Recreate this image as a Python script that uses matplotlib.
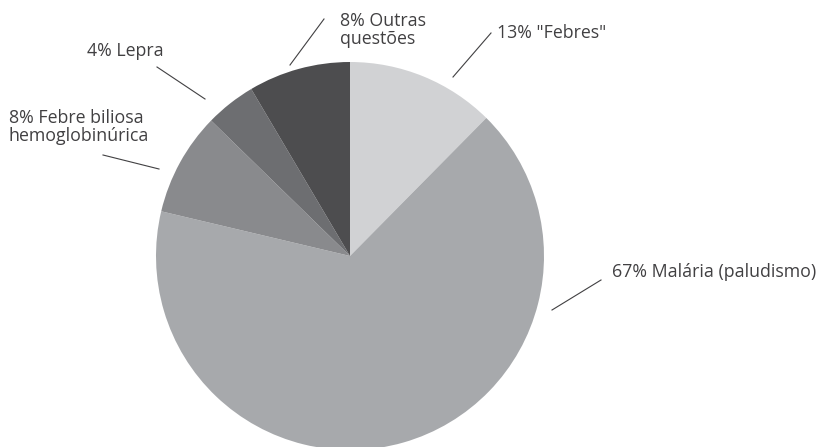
import matplotlib
matplotlib.use("Agg")
import matplotlib.pyplot as plt

labels = ['13% "Febres"', '67% Malária (paludismo)', '8% Febre biliosa\nhemoglobinúrica', '4% Lepra', '8% Outras\nquestões']
values = [12.4, 66.3, 8.6, 4.2, 8.5]
colors = ['#d1d2d4', '#a7a9ac', '#898a8d', '#6d6e71', '#4d4d4f']

W, H = 834, 447
fig = plt.figure(figsize=(W / 100, H / 100), dpi=100)
ax = fig.add_axes([0, 0, 1, 1])

cx, cy, r = 350, H - 256, 194
ax.pie(values, colors=colors, startangle=90, counterclock=False,
       center=(cx, cy), radius=r, wedgeprops=dict(linewidth=0))
ax.set_xlim(0, W)
ax.set_ylim(0, H)
ax.set_aspect('equal')
ax.axis('off')

# label layout: (text x, text y (image px), line start, line end) in image px
layout = [
    (497, 33, (453, 77), (491, 33)),
    (612, 272, (552, 310), (601, 280)),
    (9, 127, (159, 169), (103, 155)),
    (87, 51, (205, 99), (157, 67)),
    (340, 30, (290, 65), (324, 19)),
]
fp = dict(family=['Open Sans', 'DejaVu Sans'], fontsize=12.8, color='#414042')
for lab, (tx, ty, p0, p1) in zip(labels, layout):
    ax.plot([p0[0], p1[0]], [H - p0[1], H - p1[1]], color='#414042', lw=0.8)
    ax.text(tx, H - ty, lab, ha='left', va='center', linespacing=0.95, **fp)

fig.savefig('out.png', dpi=100)
